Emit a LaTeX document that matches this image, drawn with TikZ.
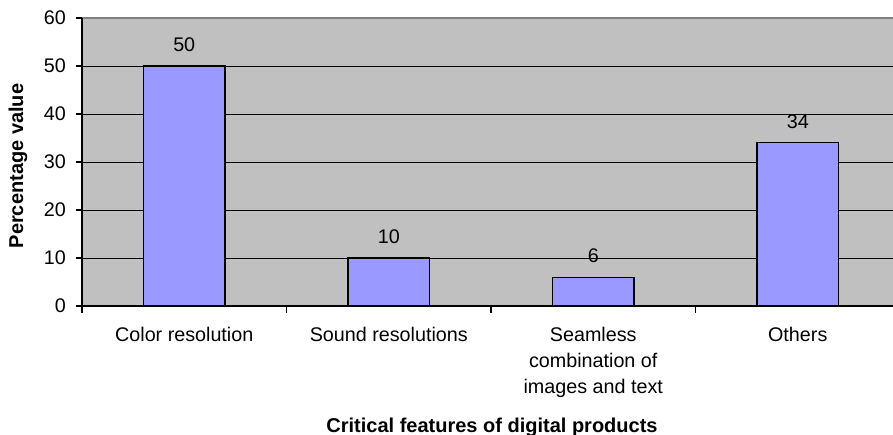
\documentclass[tikz,border=0pt]{standalone}
\usepackage{fontspec}
\setmainfont{Liberation Sans}
\usetikzlibrary{positioning}
\definecolor{plotgray}{RGB}{192,192,192}
\definecolor{barblue}{RGB}{153,153,255}

\begin{document}
\begin{tikzpicture}[x=0.75pt,y=0.75pt,
  bar/.style={draw=black,fill=barblue,line width=0.9pt},
  grid line/.style={draw=black,line width=0.7pt},
  axis line/.style={draw=black,line width=0.9pt},
  lbl/.style={font=\fontsize{14.8}{19.5}\selectfont,inner sep=0pt},
  title/.style={font=\bfseries\fontsize{15}{18}\selectfont,inner sep=0pt}]
\useasboundingbox (0,0) rectangle (893,435);
\begin{scope}
\clip (0,0) rectangle (893,435);
% plot area
\fill[plotgray] (82,129) rectangle (900,417);
\draw[gray,line width=0.9pt] (82,417) -- (900,417);
\foreach \v in {10,20,...,50}
  \draw[grid line] (82,129+4.8*\v) -- (900,129+4.8*\v);
% bars
\foreach \val [count=\i from 0] in {50,10,6,34} {
  \pgfmathsetmacro{\cx}{184.25+204.5*\i}
  \draw[bar] (\cx-40.75,129) rectangle (\cx+40.75,129+4.8*\val);
  \node[lbl] (val\i) at (\cx,150+4.8*\val) {\val};
}
% axes
\coordinate (origin) at (82,129);
\coordinate (ytop) at (82,417);
\coordinate (xend) at (900,129);
\draw[axis line] (ytop) -- (origin) -- (xend);
\foreach \v in {0,10,...,60} {
  \draw[axis line] (76,129+4.8*\v) -- (82,129+4.8*\v);
  \node[lbl,anchor=east] (tick\v) at (66,129+4.8*\v) {\v};
}
\foreach \i in {0,...,4}
  \draw[axis line] (82+204.5*\i,129) -- (82+204.5*\i,122);
\end{scope}
% category labels
\node[lbl,anchor=north,align=center] (cat0) at (184.25,108) {Color resolution};
\node[lbl,anchor=north,align=center] (cat1) at (388.75,108) {Sound resolutions};
\node[lbl,anchor=north,align=center] (cat2) at (593.25,108) {Seamless\\combination of\\images and text};
\node[lbl,anchor=north,align=center] (cat3) at (797.75,108) {Others};
% axis titles
\node[title,rotate=90] (ytitle) at (18,269) {Percentage value};
\node[title] (xtitle) at (492,8) {Critical features of digital products};
\end{tikzpicture}
\end{document}
